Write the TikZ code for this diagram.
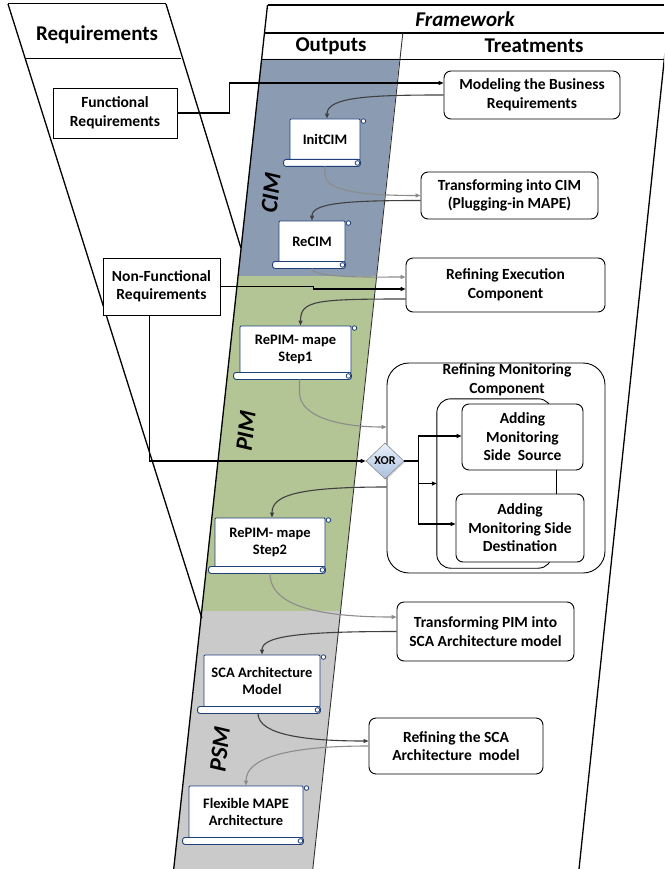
\documentclass[tikz,border=0pt]{standalone}
\usepackage{fontspec}
\setmainfont{Carlito}
\usepackage{xcolor}
\usetikzlibrary{arrows.meta,shapes.geometric,shadows}
\definecolor{CimFill}{HTML}{8B9CB2}
\definecolor{PimFill}{HTML}{B3C495}
\definecolor{PsmFill}{HTML}{CACACA}
\definecolor{DocBlue}{HTML}{1F3F7A}
\definecolor{XorTop}{HTML}{EAF1FA}
\definecolor{XorBot}{HTML}{A9C0DE}
\definecolor{LinkDark}{HTML}{404040}
\definecolor{LinkGray}{HTML}{8C8C8C}

\tikzset{
  frameline/.style={line width=1.3pt},
  taskbox/.style={draw, line width=0.9pt, rounded corners=7pt, fill=white, align=center,
    inner sep=0pt, font=\fontsize{15.5}{18.5}\selectfont\bfseries},
  reqbox/.style={draw, line width=0.9pt, fill=white, align=center,
    inner sep=0pt, font=\fontsize{15.5}{18.5}\selectfont\bfseries},
  docbox/.style={draw=DocBlue, line width=0.9pt, fill=white, rounded corners=1pt, align=center,
    inner sep=0pt, font=\fontsize{14.5}{17.5}\selectfont\bfseries},
  headtext/.style={font=\fontsize{21}{24}\selectfont\bfseries},
  headitalic/.style={font=\fontsize{21}{24}\selectfont\bfseries\itshape},
  layertext/.style={font=\fontsize{24}{26}\selectfont\bfseries\itshape, rotate=84},
  reqlink/.style={draw=black, line width=1.1pt, -{Triangle[length=5pt,width=4pt]}},
  darklink/.style={draw=LinkDark, line width=1.1pt, -{Triangle[length=5pt,width=4pt]}},
  graylink/.style={draw=LinkGray, line width=1.1pt, -{Triangle[length=5pt,width=4pt]}},
}

% rolled bottom edge and curls of a document node
\newcommand{\docroll}[1]{%
  \draw[draw=DocBlue, line width=0.9pt, fill=white, rounded corners=2.5pt]
    ([xshift=-6pt,yshift=1pt]#1.south west) rectangle ([yshift=-6pt]#1.south east);
  \draw[draw=DocBlue, line width=0.8pt, fill=white] ([xshift=-3pt,yshift=-2.5pt]#1.south east) circle (2.3pt);
  \draw[draw=DocBlue, line width=0.8pt, fill=white] ([xshift=3pt,yshift=-2.5pt]#1.north east) circle (2.3pt);
}

\begin{document}
\begin{tikzpicture}[x=1pt,y=-1pt]
\useasboundingbox (0,0) rectangle (664,869);
\clip (0,0) rectangle (664,869);

% layers of the outputs column
\fill[CimFill] (261.2,59) -- (399.4,59) -- (376.2,276) -- (237.7,276) -- cycle;
\fill[PimFill] (237.7,276) -- (376.2,276) -- (340.4,611) -- (201.6,611) -- cycle;
\fill[PsmFill] (201.6,611) -- (340.4,611) -- (312.8,869) -- (173.7,869) -- cycle;

% requirements lane
\draw[line width=1pt] (8,4) -- (166,4);
\draw[frameline] (166,4) -- (240.8,247.6);
\draw[frameline] (8,4) -- (201.8,618);
\draw[line width=1pt] (26,59) -- (181,59);

% framework lane
\draw[line width=2.6pt] (267.5,5) -- (664,5);
\draw[line width=2.6pt] (264.5,33) -- (664,33);
\draw[line width=0.9pt] (261.2,59) -- (664,59);
\draw[frameline] (267.5,5) -- (173.7,869);
\draw[line width=0.9pt, black!80] (402.8,33) -- (312.8,869);
\draw[frameline] (670,5) -- (579,869);

% headers
\node[headtext] (reqtitle) at (97,35) {Requirements};
\node[headitalic] (fwtitle) at (465,19) {Framework};
\node[headtext] (outtitle) at (331,46) {Outputs};
\node[headtext] (treattitle) at (534,46) {Treatments};

\node[layertext] (cimlabel) at (271,193) {CIM};
\node[layertext] (pimlabel) at (246,431) {PIM};
\node[layertext] (psmlabel) at (220,749) {PSM};

% requirements
\node[reqbox, minimum width=124pt, minimum height=50pt] (func) at (115,113) {Functional\\Requirements};
\node[reqbox, minimum width=117pt, minimum height=57pt] (nonfunc) at (161.5,286.5) {Non-Functional\\Requirements};

% treatments
\node[taskbox, minimum width=176pt, minimum height=48pt] (model) at (532,95) {Modeling the Business\\Requirements};
\node[taskbox, minimum width=177pt, minimum height=47pt] (tocim) at (509.5,195.5) {Transforming into CIM\\(Plugging-in MAPE)};
\node[taskbox, minimum width=199pt, minimum height=54pt] (refexec) at (505.5,285) {Refining Execution\\Component};
\node[taskbox, rounded corners=22pt, minimum width=218pt, minimum height=210pt] (refmon) at (496,468) {};
\node[font=\fontsize{15.5}{18.5}\selectfont\bfseries, align=center, anchor=north, inner sep=0pt]
  (refmontitle) at ([xshift=11pt,yshift=-1pt]refmon.north) {Refining Monitoring\\Component};
\node[fill=white, minimum width=115pt, minimum height=169pt, inner sep=0pt] (group) at (494.5,483.5) {};
\draw[line width=0.9pt, rounded corners=14pt] ([yshift=-30pt]group.north east) -- (group.north east)
  -- (group.north west) -- (group.south west) -- (group.south east) -- ([yshift=30pt]group.south east);
\node[taskbox, minimum width=121pt, minimum height=66pt] (addsrc) at (522.5,437) {Adding\\Monitoring\\Side~ Source};
\node[taskbox, minimum width=128pt, minimum height=68pt] (adddst) at (520,528) {Adding\\Monitoring Side\\Destination};
\node[taskbox, minimum width=177pt, minimum height=59pt] (topim) at (485.5,631.5) {Transforming PIM into\\SCA Architecture model};
\node[taskbox, minimum width=174pt, minimum height=56pt] (refsca) at (456,746) {Refining the SCA\\Architecture~ model};

\node[diamond, draw=black!45, line width=0.6pt, top color=XorTop, bottom color=XorBot,
  drop shadow={opacity=0.3, shadow xshift=1.2pt, shadow yshift=-1.2pt},
  minimum width=38pt, minimum height=36pt, inner sep=0pt,
  font=\fontsize{12}{14}\selectfont\bfseries] (xor) at (385,461) {XOR};

% outputs
\node[docbox, minimum width=70pt, minimum height=41pt] (initcim) at (325,139.5) {InitCIM};
\docroll{initcim}
\node[docbox, minimum width=66pt, minimum height=41pt] (recim) at (312,241.5) {ReCIM};
\docroll{recim}
\node[docbox, minimum width=111pt, minimum height=47pt] (step1) at (295.5,349.5) {RePIM- mape\\Step1};
\docroll{step1}
\node[docbox, minimum width=110pt, minimum height=49pt] (step2) at (270,542.5) {RePIM- mape\\Step2};
\docroll{step2}
\node[docbox, minimum width=116pt, minimum height=52pt] (scamodel) at (262,681) {SCA Architecture\\Model};
\docroll{scamodel}
\node[docbox, minimum width=114pt, minimum height=52pt] (flexmape) at (246,812) {Flexible MAPE\\Architecture};
\docroll{flexmape}

% connectors
\draw[reqlink] (func.east) -- ++(52,0) |- ([yshift=12pt]model.west);
\draw[darklink] (model.west) .. controls +(-70,0) and +(0,-22) .. ([xshift=2pt]initcim.north);
\draw[graylink] ([yshift=-6pt]initcim.south) -- ++(0,8) .. controls +(0,18) and +(-50,0) .. (tocim.west);
\draw[darklink] ([yshift=-5pt]tocim.west) .. controls +(-70,0) and +(0,-18) .. (recim.north);
\draw[graylink] ([yshift=-6pt]recim.south) .. controls +(0,10) and +(-30,0) .. ([yshift=8pt]refexec.west);
\draw[reqlink] (nonfunc.east) -- ++(93,0) |- ([yshift=-4pt]refexec.west);
\draw[darklink] ([yshift=-14pt]refexec.west) .. controls +(-90,0) and +(0,-25) .. ([xshift=5pt]step1.north);
\draw[graylink] ([xshift=4pt,yshift=-6pt]step1.south) -- ++(0,13) .. controls +(0,25) and +(-45,0) .. ([yshift=41pt]refmon.west);
\draw[reqlink] ([xshift=-12pt]nonfunc.south) |- (xor.west);
\draw[line width=2.4pt] (xor.east) -- ++(14,0) coordinate (xsplit);
\draw[reqlink] (xsplit) |- ([yshift=1pt]addsrc.west);
\draw[reqlink] (xsplit) |- (group.west);
\draw[reqlink] (xsplit) |- ([yshift=4pt]adddst.west);
\draw[line width=0.9pt] ([xshift=33.5pt]addsrc.south) -- ([xshift=36pt]adddst.north);
\draw[darklink] ([yshift=-19pt]refmon.west) .. controls +(-90,0) and +(0,-22) .. ([xshift=2pt]step2.north);
\draw[graylink] ([yshift=-6pt]step2.south) .. controls +(0,35) and +(-70,0) .. ([yshift=14.5pt]topim.west);
\draw[darklink] (topim.west) .. controls +(-100,0) and +(0,-18) .. (scamodel.north);
\draw[darklink] ([xshift=-4pt,yshift=-6pt]scamodel.south) .. controls +(0,22) and +(-60,0) .. ([yshift=5pt]refsca.west);
\draw[graylink] (refsca.west) .. controls +(-90,0) and +(0,-25) .. (flexmape.north);
\end{tikzpicture}
\end{document}
